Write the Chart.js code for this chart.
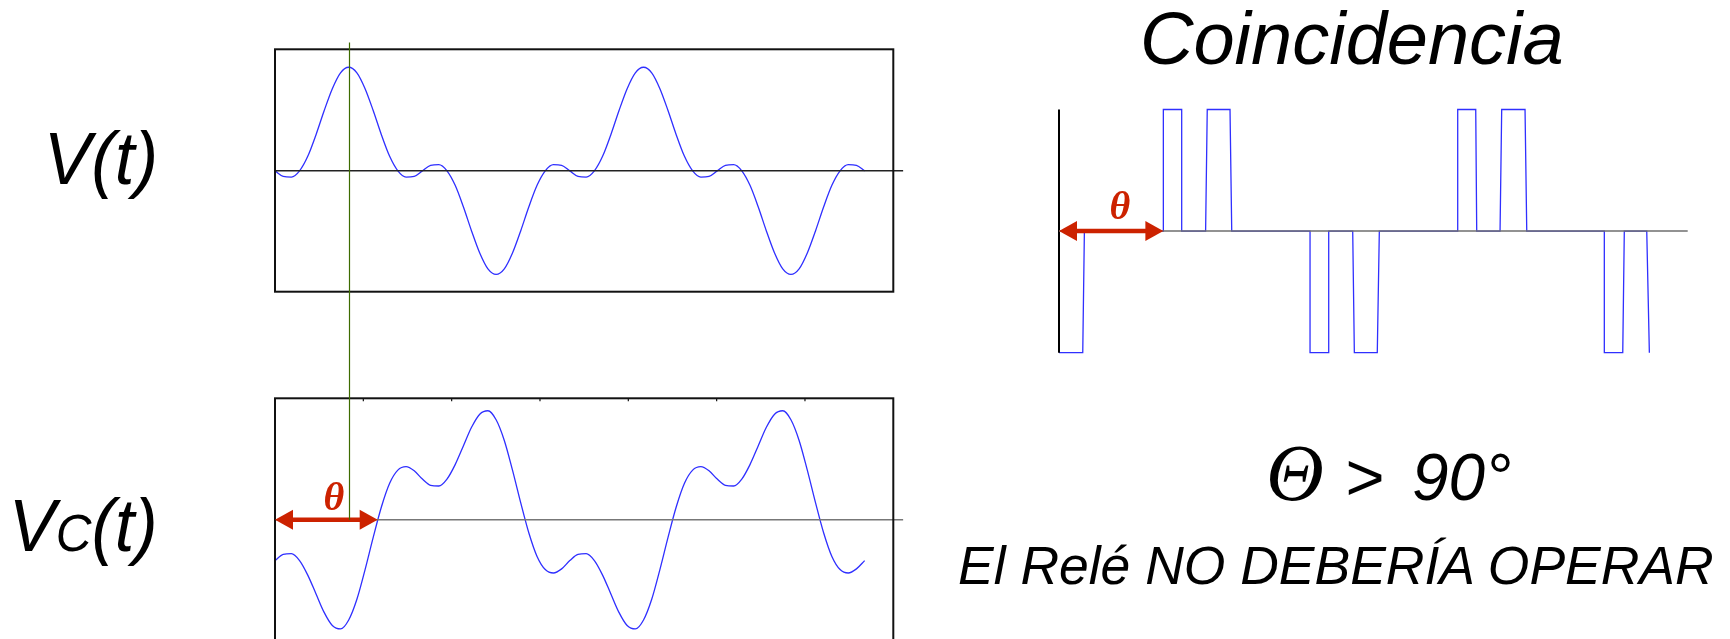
<!DOCTYPE html>
<html lang="es">
<head>
<meta charset="utf-8">
<title>Coincidencia</title>
<script src="https://cdn.jsdelivr.net/npm/chart.js@4.4.1/dist/chart.umd.min.js"></script>
<style>
  html, body { margin: 0; padding: 0; background: #fff; }
  body { width: 1730px; height: 639px; position: relative; overflow: hidden;
         font-family: 'Liberation Sans', Arial, sans-serif; }
  .box { position: absolute; }
  .lbl { position: absolute; font-style: italic; line-height: 1; white-space: nowrap; color: #000; }
  .theta { position: absolute; width: 44px; text-align: center; font-family: 'Liberation Serif', serif;
           font-style: italic; font-weight: bold; color: #cc2200; font-size: 40px; line-height: 1; }
</style>
</head>
<body>
<div class="box" style="left:260px;top:30px;width:660px;height:272px"><canvas id="vChart"></canvas></div>
<div class="box" style="left:260px;top:302px;width:660px;height:360px"><canvas id="vcChart"></canvas></div>
<div class="box" style="left:1040px;top:90px;width:670px;height:280px"><canvas id="coincChart"></canvas></div>

<div class="lbl" style="right:1572px;top:122px;font-size:74px;transform:scaleX(0.96);transform-origin:right">V(t)</div>
<div class="lbl" style="right:1572px;top:489px;font-size:74px;transform:scaleX(0.95);transform-origin:right">V<span style="font-size:52px">C</span>(t)</div>
<div class="lbl" style="left:1140px;top:2px;font-size:74px">Coincidencia</div>
<div class="lbl" style="left:1266px;top:443px;font-size:67px"><span style="font-family:'Liberation Serif',serif;font-size:80px;line-height:0">Θ</span><span style="margin-left:2px"> &gt;</span> <span style="display:inline-block;margin-left:10px;transform:scaleX(0.98);transform-origin:left">90°</span></div>
<div class="lbl" style="left:958px;top:538px;font-size:54px;transform:scaleX(0.99);transform-origin:left">El Relé NO DEBERÍA OPERAR</div>
<div class="theta" style="left:312px;top:477px">θ</div>
<div class="theta" style="left:1098px;top:186px">θ</div>

<script>
// ángulo en grados (misma escala de tiempo para las tres gráficas)
const angles = [-90, -80, -70, -60, -50, -40, -30, -20, -10, 0, 10, 20, 30, 40, 50, 60, 70, 80, 90,
  100, 110, 120, 130, 140, 150, 160, 170, 180, 190, 200, 210, 220, 230, 240, 250, 260, 270,
  280, 290, 300, 310, 320, 330, 340, 350, 360, 370, 380, 390, 400, 410, 420, 430, 440, 450,
  460, 470, 480, 490, 500, 510, 520, 530, 540, 550, 560, 570, 580, 590, 600, 610, 620, 630];

// V(t)
const vValues = [0, -0.08, -0.09, 0, 0.21, 0.52, 0.87, 1.19, 1.42, 1.5, 1.42, 1.19, 0.87, 0.52, 0.21, 0, -0.09, -0.08, 0,
  0.08, 0.09, 0, -0.21, -0.52, -0.87, -1.19, -1.42, -1.5, -1.42, -1.19, -0.87, -0.52, -0.21, 0, 0.09, 0.08, 0,
  -0.08, -0.09, 0, 0.21, 0.52, 0.87, 1.19, 1.42, 1.5, 1.42, 1.19, 0.87, 0.52, 0.21, 0, -0.09, -0.08, 0,
  0.08, 0.09, 0, -0.21, -0.52, -0.87, -1.19, -1.42, -1.5, -1.42, -1.19, -0.87, -0.52, -0.21, 0, 0.09, 0.08, 0];

// Vc(t)
const vcValues = [-0.59, -0.50, -0.49, -0.59, -0.80, -1.07, -1.34, -1.53, -1.58, -1.45, -1.15, -0.72, -0.25, 0.19, 0.53, 0.72, 0.77, 0.71, 0.59,
  0.50, 0.49, 0.59, 0.80, 1.07, 1.34, 1.53, 1.58, 1.45, 1.15, 0.72, 0.25, -0.19, -0.53, -0.72, -0.77, -0.71, -0.59,
  -0.50, -0.49, -0.59, -0.80, -1.07, -1.34, -1.53, -1.58, -1.45, -1.15, -0.72, -0.25, 0.19, 0.53, 0.72, 0.77, 0.71, 0.59,
  0.50, 0.49, 0.59, 0.80, 1.07, 1.34, 1.53, 1.58, 1.45, 1.15, 0.72, 0.25, -0.19, -0.53, -0.72, -0.77, -0.71, -0.59];

// salida del comparador de coincidencia (escalones)
const coincT = [-90, -61, -59, 37.4, 37.4, 59.8, 59.8, 89, 91, 118.8, 120.9, 216.5, 216.5, 239.3, 239.3, 268.6, 270.6,
  298.6, 301.1, 396.8, 396.8, 418.8, 420, 448.5, 450.5, 479, 481.1, 575.8, 575.8, 598.3, 600.2, 627.6, 630.8];
const coincV = [-1, -1, 0, 0, 1, 1, 0, 0, 1, 1, 0, 0, -1, -1, 0, 0, -1,
  -1, 0, 0, 1, 1, 0, 0, 1, 1, 0, 0, -1, -1, 0, 0, -1];

const thetaVc = 35.4;      // cruce por cero de Vc
const thetaCoinc = 37.4;   // primer flanco de la coincidencia
const peakAngle = 0;       // línea vertical verde (pico de V)
const vcTicks = [17.86, 125.71, 233.57, 341.43, 449.29, 557.14];

const BLUE = '#2f2fff';
const RED = '#cc2200';
const GREEN = '#3d6b00';

const zip = (xs, ys) => xs.map((x, i) => ({ x, y: ys[i] }));

const framePlugin = {
  id: 'frame',
  afterDraw(chart, args, o) {
    const { ctx, chartArea: a } = chart;
    ctx.save();
    if (o.box) {
      ctx.strokeStyle = '#111';
      ctx.lineWidth = 2;
      ctx.strokeRect(a.left, a.top, a.right - a.left, a.bottom - a.top);
      const xs = chart.scales.x;
      ctx.lineWidth = 1.2;
      (o.ticks || []).forEach(t => {
        const px = xs.getPixelForValue(t);
        ctx.beginPath(); ctx.moveTo(px, a.top); ctx.lineTo(px, a.top + 3); ctx.stroke();
      });
    }
    if (o.arrow) {
      const xs = chart.scales.x, ys = chart.scales.y;
      const x1 = xs.getPixelForValue(o.arrow.from), x2 = xs.getPixelForValue(o.arrow.to);
      const y = ys.getPixelForValue(0);
      const hl = 18, hw = 10;
      ctx.fillStyle = RED; ctx.strokeStyle = RED; ctx.lineWidth = 4.5;
      ctx.beginPath(); ctx.moveTo(x1 + hl - 2, y); ctx.lineTo(x2 - hl + 2, y); ctx.stroke();
      ctx.beginPath(); ctx.moveTo(x1, y); ctx.lineTo(x1 + hl, y - hw); ctx.lineTo(x1 + hl, y + hw); ctx.closePath(); ctx.fill();
      ctx.beginPath(); ctx.moveTo(x2, y); ctx.lineTo(x2 - hl, y - hw); ctx.lineTo(x2 - hl, y + hw); ctx.closePath(); ctx.fill();
    }
    if (o.marker) {
      const xs = chart.scales.x, ys = chart.scales.y;
      const px = Math.round(xs.getPixelForValue(o.marker.x)) + 0.5;
      const yTop = o.marker.top == null ? 0 : ys.getPixelForValue(o.marker.top);
      const yBot = o.marker.bottom == null ? chart.height : ys.getPixelForValue(o.marker.bottom);
      ctx.strokeStyle = GREEN; ctx.lineWidth = 1.2;
      ctx.beginPath(); ctx.moveTo(px, yTop); ctx.lineTo(px, yBot); ctx.stroke();
    }
    ctx.restore();
  }
};

function waveChart(id, values, padding, zeroColor, extra) {
  return new Chart(document.getElementById(id), {
    type: 'line',
    data: {
      datasets: [
        {
          data: [{ x: -90, y: 0 }, { x: 677, y: 0 }],
          borderColor: zeroColor, borderWidth: 1.5, pointRadius: 0, clip: false,
        },
        {
          data: zip(angles, values),
          borderColor: BLUE, borderWidth: 1.3, pointRadius: 0,
          cubicInterpolationMode: 'monotone', clip: false,
        },
      ],
    },
    options: {
      responsive: true,
      maintainAspectRatio: false,
      animation: false,
      layout: { padding },
      plugins: { legend: { display: false }, tooltip: { enabled: false }, frame: Object.assign({ box: true }, extra) },
      scales: {
        x: { type: 'linear', min: -90, max: 665, display: false },
        y: { min: -1.75, max: 1.76, display: false },
      },
    },
    plugins: [framePlugin],
  });
}

waveChart('vChart', vValues, { left: 15, top: 19.3, right: 26.7, bottom: 10.3 }, '#222',
  { marker: { x: peakAngle, top: 1.86, bottom: null } });

waveChart('vcChart', vcValues, { left: 15, top: 96.3, right: 26.7, bottom: 21.3 }, '#777',
  { ticks: vcTicks, arrow: { from: -90, to: thetaVc }, marker: { x: peakAngle, top: null, bottom: 0 } });

new Chart(document.getElementById('coincChart'), {
  type: 'line',
  data: {
    datasets: [
      {
        data: [{ x: -90, y: 0 }, { x: 677.6, y: 0 }],
        borderColor: '#6e6e6e', borderWidth: 1.5, pointRadius: 0, clip: false,
      },
      {
        data: [{ x: -90, y: -1 }, { x: -90, y: 1 }],
        borderColor: '#000', borderWidth: 2, pointRadius: 0, clip: false,
      },
      {
        data: zip(coincT, coincV),
        borderColor: BLUE, borderWidth: 1.3, pointRadius: 0, tension: 0, clip: false,
      },
    ],
  },
  options: {
    responsive: true,
    maintainAspectRatio: false,
    animation: false,
    layout: { padding: { left: 19, top: 19.5, right: 22.3, bottom: 17.3 } },
    plugins: { legend: { display: false }, tooltip: { enabled: false },
      frame: { box: false, arrow: { from: -90, to: thetaCoinc } } },
    scales: {
      x: { type: 'linear', min: -90, max: 677.6, display: false },
      y: { min: -1, max: 1, display: false },
    },
  },
  plugins: [framePlugin],
});
</script>
</body>
</html>
